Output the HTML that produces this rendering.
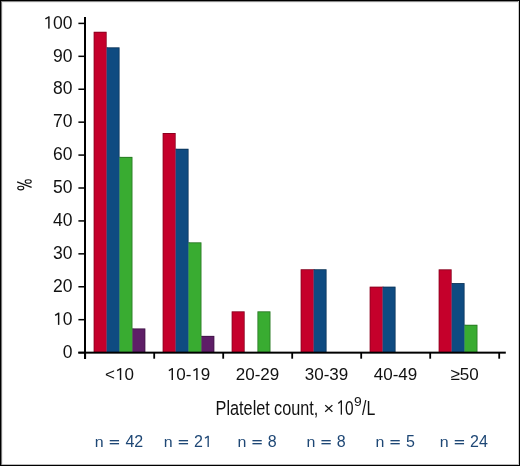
<!DOCTYPE html>
<html><head><meta charset="utf-8"><style>
html,body{margin:0;padding:0;background:#fff;}
svg{display:block;}
.wrap{will-change:transform;width:520px;height:466px;}
text{font-family:"Liberation Sans",sans-serif;fill:#111;}
.yl{font-size:17.5px;text-anchor:end;}
.xl{font-size:17px;text-anchor:middle;}
.nl{font-size:16px;fill:#1e4775;}
.tt text{fill:#111;}
.h1{fill-opacity:0;}
.pc{font-size:17px;text-anchor:middle;}
</style></head><body>
<div class="wrap"><svg width="520" height="466" viewBox="0 0 520 466">
<rect x="0" y="0" width="520" height="466" fill="#fff"/>
<rect x="93.70" y="31.80" width="12.90" height="321.20" fill="#c5002b"/>
<rect x="106.40" y="47.40" width="1.2" height="305.60" fill="#c5002b"/>
<rect x="106.60" y="47.40" width="12.90" height="305.60" fill="#0f4b81"/>
<rect x="119.30" y="156.90" width="1.2" height="196.10" fill="#0f4b81"/>
<rect x="119.50" y="156.90" width="12.90" height="196.10" fill="#39ac31"/>
<rect x="132.20" y="328.50" width="1.2" height="24.50" fill="#39ac31"/>
<rect x="132.40" y="328.50" width="12.90" height="24.50" fill="#5e1e67"/>
<rect x="93.70" y="31.80" width="12.90" height="0.8" fill="#000" fill-opacity="0.35"/>
<rect x="93.70" y="32.60" width="0.7" height="320.00" fill="#000" fill-opacity="0.35"/>
<rect x="105.90" y="32.60" width="0.7" height="14.80" fill="#000" fill-opacity="0.35"/>
<rect x="106.60" y="47.40" width="12.90" height="0.8" fill="#000" fill-opacity="0.35"/>
<rect x="118.80" y="48.20" width="0.7" height="108.70" fill="#000" fill-opacity="0.35"/>
<rect x="119.50" y="156.90" width="12.90" height="0.8" fill="#000" fill-opacity="0.35"/>
<rect x="131.70" y="157.70" width="0.7" height="170.80" fill="#000" fill-opacity="0.35"/>
<rect x="132.40" y="328.50" width="12.90" height="0.8" fill="#000" fill-opacity="0.35"/>
<rect x="144.60" y="329.30" width="0.7" height="23.30" fill="#000" fill-opacity="0.35"/>
<rect x="162.70" y="133.00" width="12.90" height="220.00" fill="#c5002b"/>
<rect x="175.40" y="148.80" width="1.2" height="204.20" fill="#c5002b"/>
<rect x="175.60" y="148.80" width="12.90" height="204.20" fill="#0f4b81"/>
<rect x="188.30" y="242.40" width="1.2" height="110.60" fill="#0f4b81"/>
<rect x="188.50" y="242.40" width="12.90" height="110.60" fill="#39ac31"/>
<rect x="201.20" y="335.90" width="1.2" height="17.10" fill="#39ac31"/>
<rect x="201.40" y="335.90" width="12.90" height="17.10" fill="#5e1e67"/>
<rect x="162.70" y="133.00" width="12.90" height="0.8" fill="#000" fill-opacity="0.35"/>
<rect x="162.70" y="133.80" width="0.7" height="218.80" fill="#000" fill-opacity="0.35"/>
<rect x="174.90" y="133.80" width="0.7" height="15.00" fill="#000" fill-opacity="0.35"/>
<rect x="175.60" y="148.80" width="12.90" height="0.8" fill="#000" fill-opacity="0.35"/>
<rect x="187.80" y="149.60" width="0.7" height="92.80" fill="#000" fill-opacity="0.35"/>
<rect x="188.50" y="242.40" width="12.90" height="0.8" fill="#000" fill-opacity="0.35"/>
<rect x="200.70" y="243.20" width="0.7" height="92.70" fill="#000" fill-opacity="0.35"/>
<rect x="201.40" y="335.90" width="12.90" height="0.8" fill="#000" fill-opacity="0.35"/>
<rect x="213.60" y="336.70" width="0.7" height="15.90" fill="#000" fill-opacity="0.35"/>
<rect x="231.70" y="311.40" width="12.90" height="41.60" fill="#c5002b"/>
<rect x="257.50" y="311.40" width="12.90" height="41.60" fill="#39ac31"/>
<rect x="231.70" y="311.40" width="12.90" height="0.8" fill="#000" fill-opacity="0.35"/>
<rect x="231.70" y="312.20" width="0.7" height="40.40" fill="#000" fill-opacity="0.35"/>
<rect x="243.90" y="312.20" width="0.7" height="40.40" fill="#000" fill-opacity="0.35"/>
<rect x="257.50" y="311.40" width="12.90" height="0.8" fill="#000" fill-opacity="0.35"/>
<rect x="257.50" y="312.20" width="0.7" height="40.40" fill="#000" fill-opacity="0.35"/>
<rect x="269.70" y="312.20" width="0.7" height="40.40" fill="#000" fill-opacity="0.35"/>
<rect x="300.70" y="269.30" width="12.90" height="83.70" fill="#c5002b"/>
<rect x="313.40" y="269.30" width="1.2" height="83.70" fill="#c5002b"/>
<rect x="313.60" y="269.30" width="12.90" height="83.70" fill="#0f4b81"/>
<rect x="300.70" y="269.30" width="12.90" height="0.8" fill="#000" fill-opacity="0.35"/>
<rect x="300.70" y="270.10" width="0.7" height="82.50" fill="#000" fill-opacity="0.35"/>
<rect x="313.60" y="269.30" width="12.90" height="0.8" fill="#000" fill-opacity="0.35"/>
<rect x="325.80" y="270.10" width="0.7" height="82.50" fill="#000" fill-opacity="0.35"/>
<rect x="369.70" y="286.70" width="12.90" height="66.30" fill="#c5002b"/>
<rect x="382.40" y="286.70" width="1.2" height="66.30" fill="#c5002b"/>
<rect x="382.60" y="286.70" width="12.90" height="66.30" fill="#0f4b81"/>
<rect x="369.70" y="286.70" width="12.90" height="0.8" fill="#000" fill-opacity="0.35"/>
<rect x="369.70" y="287.50" width="0.7" height="65.10" fill="#000" fill-opacity="0.35"/>
<rect x="382.60" y="286.70" width="12.90" height="0.8" fill="#000" fill-opacity="0.35"/>
<rect x="394.80" y="287.50" width="0.7" height="65.10" fill="#000" fill-opacity="0.35"/>
<rect x="438.70" y="269.40" width="12.90" height="83.60" fill="#c5002b"/>
<rect x="451.40" y="283.10" width="1.2" height="69.90" fill="#c5002b"/>
<rect x="451.60" y="283.10" width="12.90" height="69.90" fill="#0f4b81"/>
<rect x="464.30" y="324.80" width="1.2" height="28.20" fill="#0f4b81"/>
<rect x="464.50" y="324.80" width="12.90" height="28.20" fill="#39ac31"/>
<rect x="438.70" y="269.40" width="12.90" height="0.8" fill="#000" fill-opacity="0.35"/>
<rect x="438.70" y="270.20" width="0.7" height="82.40" fill="#000" fill-opacity="0.35"/>
<rect x="450.90" y="270.20" width="0.7" height="12.90" fill="#000" fill-opacity="0.35"/>
<rect x="451.60" y="283.10" width="12.90" height="0.8" fill="#000" fill-opacity="0.35"/>
<rect x="463.80" y="283.90" width="0.7" height="40.90" fill="#000" fill-opacity="0.35"/>
<rect x="464.50" y="324.80" width="12.90" height="0.8" fill="#000" fill-opacity="0.35"/>
<rect x="476.70" y="325.60" width="0.7" height="27.00" fill="#000" fill-opacity="0.35"/>
<rect x="84" y="17" width="2" height="342" fill="#000"/>
<rect x="78.3" y="351.65" width="427.50" height="2.0" fill="#000"/>
<rect x="78.4" y="351.85" width="6" height="1.5" fill="#000"/>
<text x="72.4" y="357.80" class="yl">0</text>
<rect x="78.4" y="318.93" width="6" height="1.5" fill="#000"/>
<text x="72.4" y="324.88" class="yl"><tspan class="h1">1</tspan>0</text>
<rect x="78.4" y="286.01" width="6" height="1.5" fill="#000"/>
<text x="72.4" y="291.96" class="yl">20</text>
<rect x="78.4" y="253.09" width="6" height="1.5" fill="#000"/>
<text x="72.4" y="259.04" class="yl">30</text>
<rect x="78.4" y="220.17" width="6" height="1.5" fill="#000"/>
<text x="72.4" y="226.12" class="yl">40</text>
<rect x="78.4" y="187.25" width="6" height="1.5" fill="#000"/>
<text x="72.4" y="193.20" class="yl">50</text>
<rect x="78.4" y="154.33" width="6" height="1.5" fill="#000"/>
<text x="72.4" y="160.28" class="yl">60</text>
<rect x="78.4" y="121.41" width="6" height="1.5" fill="#000"/>
<text x="72.4" y="127.36" class="yl">70</text>
<rect x="78.4" y="88.49" width="6" height="1.5" fill="#000"/>
<text x="72.4" y="94.44" class="yl">80</text>
<rect x="78.4" y="55.57" width="6" height="1.5" fill="#000"/>
<text x="72.4" y="61.52" class="yl">90</text>
<rect x="78.4" y="22.65" width="6" height="1.5" fill="#000"/>
<text x="72.4" y="28.60" class="yl"><tspan class="h1">1</tspan>00</text>
<rect x="84.30" y="352.60" width="1.8" height="6.10" fill="#000"/>
<rect x="153.30" y="352.60" width="1.8" height="6.10" fill="#000"/>
<rect x="222.30" y="352.60" width="1.8" height="6.10" fill="#000"/>
<rect x="291.30" y="352.60" width="1.8" height="6.10" fill="#000"/>
<rect x="360.30" y="352.60" width="1.8" height="6.10" fill="#000"/>
<rect x="429.30" y="352.60" width="1.8" height="6.10" fill="#000"/>
<rect x="498.30" y="352.60" width="1.8" height="6.10" fill="#000"/>
<text x="119.50" y="380" class="xl">&lt;<tspan class="h1">1</tspan>0</text>
<text x="0" y="0" class="nl" transform="translate(94.79 447) scale(1 0.9)">n</text>
<rect x="109.75" y="440.0" width="9.3" height="1.35" fill="#1e4775"/>
<rect x="109.75" y="443.0" width="9.3" height="1.35" fill="#1e4775"/>
<text x="125.48" y="447" class="nl">42</text>
<text x="188.50" y="380" class="xl"><tspan class="h1">1</tspan>0-<tspan class="h1">1</tspan>9</text>
<text x="0" y="0" class="nl" transform="translate(163.79 447) scale(1 0.9)">n</text>
<rect x="178.75" y="440.0" width="9.3" height="1.35" fill="#1e4775"/>
<rect x="178.75" y="443.0" width="9.3" height="1.35" fill="#1e4775"/>
<text x="194.05" y="447" class="nl">2<tspan class="h1">1</tspan></text>
<text x="257.50" y="380" class="xl">20-29</text>
<text x="0" y="0" class="nl" transform="translate(237.49 447) scale(1 0.9)">n</text>
<rect x="252.45" y="440.0" width="9.3" height="1.35" fill="#1e4775"/>
<rect x="252.45" y="443.0" width="9.3" height="1.35" fill="#1e4775"/>
<text x="267.85" y="447" class="nl">8</text>
<text x="326.50" y="380" class="xl">30-39</text>
<text x="0" y="0" class="nl" transform="translate(306.49 447) scale(1 0.9)">n</text>
<rect x="321.45" y="440.0" width="9.3" height="1.35" fill="#1e4775"/>
<rect x="321.45" y="443.0" width="9.3" height="1.35" fill="#1e4775"/>
<text x="336.85" y="447" class="nl">8</text>
<text x="395.50" y="380" class="xl">40-49</text>
<text x="0" y="0" class="nl" transform="translate(375.49 447) scale(1 0.9)">n</text>
<rect x="390.45" y="440.0" width="9.3" height="1.35" fill="#1e4775"/>
<rect x="390.45" y="443.0" width="9.3" height="1.35" fill="#1e4775"/>
<text x="405.91" y="447" class="nl">5</text>
<text x="464.50" y="380" class="xl">≥50</text>
<text x="0" y="0" class="nl" transform="translate(439.79 447) scale(1 0.9)">n</text>
<rect x="454.75" y="440.0" width="9.3" height="1.35" fill="#1e4775"/>
<rect x="454.75" y="443.0" width="9.3" height="1.35" fill="#1e4775"/>
<text x="470.05" y="447" class="nl">24</text>
<g class="tt"><text x="215.57" y="414.7" font-size="20.5" textLength="54.25" lengthAdjust="spacingAndGlyphs">Platelet</text>
<text x="274.11" y="414.7" font-size="20.5" textLength="44.25" lengthAdjust="spacingAndGlyphs">count,</text>
<text x="323.54" y="414.15" font-size="16.8" textLength="10.61" lengthAdjust="spacingAndGlyphs">×</text>
<text x="336.32" y="414.7" font-size="20.5" textLength="17.18" lengthAdjust="spacingAndGlyphs"><tspan class="h1">1</tspan>0</text>
<text x="353.95" y="406.0" font-size="12.2" textLength="7.71" lengthAdjust="spacingAndGlyphs">9</text>
<text x="362.10" y="414.7" font-size="20.5" textLength="13.23" lengthAdjust="spacingAndGlyphs">/L</text></g>
<rect x="57.91" y="312.63" width="1.45" height="12.25" fill="rgb(17, 17, 17)"/>
<line x1="58.49" y1="313.28" x2="55.13" y2="315.26" stroke="rgb(17, 17, 17)" stroke-width="1.45"/>
<rect x="48.17" y="16.35" width="1.45" height="12.25" fill="rgb(17, 17, 17)"/>
<line x1="48.75" y1="17.00" x2="45.40" y2="18.98" stroke="rgb(17, 17, 17)" stroke-width="1.45"/>
<rect x="119.84" y="368.10" width="1.41" height="11.90" fill="rgb(17, 17, 17)"/>
<line x1="120.41" y1="368.74" x2="117.14" y2="370.65" stroke="rgb(17, 17, 17)" stroke-width="1.41"/>
<rect x="171.57" y="368.10" width="1.41" height="11.90" fill="rgb(17, 17, 17)"/>
<line x1="172.14" y1="368.74" x2="168.88" y2="370.65" stroke="rgb(17, 17, 17)" stroke-width="1.41"/>
<rect x="196.17" y="368.10" width="1.41" height="11.90" fill="rgb(17, 17, 17)"/>
<line x1="196.73" y1="368.74" x2="193.47" y2="370.65" stroke="rgb(17, 17, 17)" stroke-width="1.41"/>
<rect x="207.51" y="435.80" width="1.33" height="11.20" fill="rgb(30, 71, 117)"/>
<line x1="208.04" y1="436.40" x2="204.97" y2="438.20" stroke="rgb(30, 71, 117)" stroke-width="1.33"/>
<rect x="340.71" y="400.35" width="1.28" height="14.35" fill="rgb(17, 17, 17)"/>
<line x1="341.22" y1="400.93" x2="338.26" y2="403.43" stroke="rgb(17, 17, 17)" stroke-width="1.28"/>
<g fill="none" stroke="#111" stroke-width="1.15"><ellipse cx="28.2" cy="181.45" rx="3.0" ry="1.75"/><ellipse cx="20.75" cy="188.05" rx="3.0" ry="1.85"/><line x1="17.1" y1="181.9" x2="31.6" y2="187.4"/></g>
<rect x="0" y="0" width="520" height="1" fill="#000"/>
<rect x="0" y="1" width="520" height="1" fill="#8a8a8a"/>
<rect x="0" y="2" width="520" height="1" fill="#f0f0f0"/>
<rect x="0" y="465" width="520" height="1" fill="#000"/>
<rect x="0" y="464" width="520" height="1" fill="#bbb"/>
<rect x="0" y="0" width="1" height="466" fill="#000"/>
<rect x="1" y="1" width="1" height="464" fill="#777"/>
<rect x="2" y="2" width="1" height="462" fill="#eee"/>
<rect x="519" y="0" width="1" height="466" fill="#000"/>
<rect x="518" y="1" width="1" height="464" fill="#ccc"/>
</svg></div>
</body></html>
